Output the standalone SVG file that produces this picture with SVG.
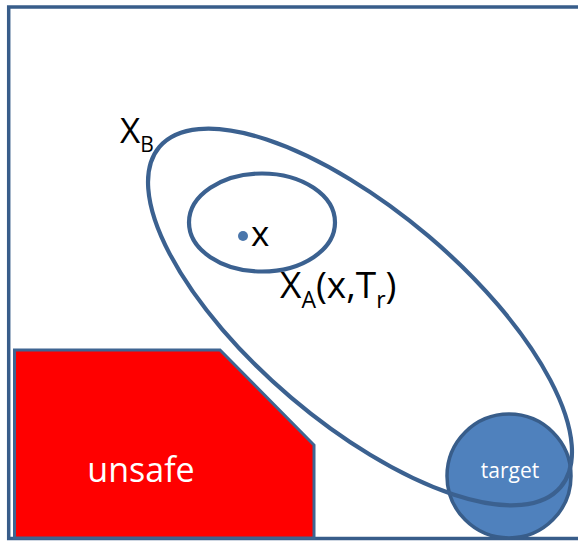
<svg xmlns="http://www.w3.org/2000/svg" width="578" height="541" viewBox="0 0 578 541">
  <style>
    .line { fill: none; stroke: #3b6190; stroke-width: 4.2; }
    .lbl { font-family: "Open Sans", "Liberation Sans", sans-serif; fill: #000; font-size: 35px; }
    .sub { font-size: 21px; }
    .wlbl { font-family: "Open Sans", "Liberation Sans", sans-serif; fill: #fff; }
  </style>
  <rect x="0" y="0" width="578" height="541" fill="#fff"/>
  <g id="frame">
    <rect x="8.7" y="7" width="620" height="531.5" fill="#fff" stroke="#385d8a" stroke-width="3.5"/>
  </g>
  <g id="unsafe">
    <polygon points="14.5,350 220,350 314,445 314,538 14.5,538" fill="#ff0000" stroke="#3f6592" stroke-width="3"/>
    <text class="wlbl" x="141" y="482" font-size="34" text-anchor="middle">unsafe</text>
  </g>
  <g id="target">
    <circle cx="509" cy="476" r="62" fill="#4f81bd" stroke="#385d8a" stroke-width="3.5"/>
    <text class="wlbl" x="510" y="478" font-size="21" text-anchor="middle">target</text>
  </g>
  <g id="XB">
    <ellipse class="line" cx="0" cy="0" rx="263" ry="106" transform="translate(360 317) rotate(40.3)"/>
    <text class="lbl" x="120" y="143">X<tspan class="sub" dy="9">B</tspan></text>
  </g>
  <g id="XA">
    <ellipse class="line" cx="262" cy="222.5" rx="73" ry="49"/>
    <text class="lbl" x="280" y="298" style="font-size:37px">X<tspan style="font-size:23px" dy="10">A</tspan><tspan dy="-10">(x,T</tspan><tspan style="font-size:23px" dy="10">r</tspan><tspan dy="-10">)</tspan></text>
  </g>
  <g id="x">
    <circle cx="243" cy="236" r="5" fill="#4a76ab"/>
    <text class="lbl" x="251" y="246">x</text>
  </g>
  <g id="connectors"></g>
</svg>
